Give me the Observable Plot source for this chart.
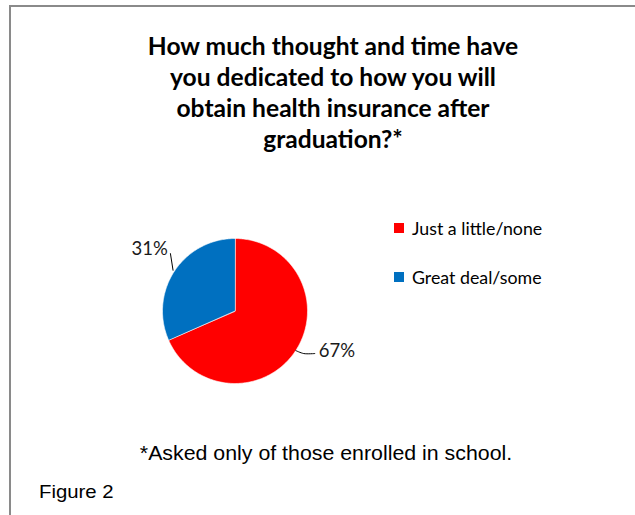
<!DOCTYPE html>
<html>
<head>
<meta charset="utf-8">
<script src="https://cdn.jsdelivr.net/npm/d3@7"></script>
<script src="https://cdn.jsdelivr.net/npm/@observablehq/plot@0.6"></script>
<style>
  html, body { margin: 0; padding: 0; background: #fff; }
  #wrap { position: relative; width: 635px; height: 515px; overflow: hidden; background: #fff; }
  #frame { position: absolute; left: 9px; top: 5px; right: -10px; bottom: -10px;
           border-top: 2px solid #8a8a8a; border-left: 2px solid #8a8a8a; }
  #chart { position: absolute; left: 0; top: 0; }
  #chart svg { overflow: visible; }
  .title { position: absolute; left: 123px; width: 420px; top: 30px; text-align: center;
           font-family: Lato, "Open Sans", sans-serif; font-weight: bold; font-size: 24.6px;
           line-height: 31px; color: #000; }
  .note { position: absolute; font-family: "Liberation Sans", Arial, sans-serif; color: #000;
          line-height: 22px; white-space: nowrap; }
  #footnote { left: 0; width: 652px; top: 442px; font-size: 19.4px; text-align: center;
              transform: scaleX(1.1); transform-origin: 326px 0; }
  #figure { left: 39px; top: 481px; font-size: 18.5px; transform: scaleX(1.1); transform-origin: 0 0; }
  .legend { position: absolute; left: 394px; font-family: Lato, "Open Sans", sans-serif;
            font-size: 17.8px; color: #000; white-space: nowrap; }
  .legend .sw { position: absolute; left: 0; width: 10px; height: 10px; }
  .legend .lb { position: absolute; left: 18px; line-height: 20px; }
</style>
</head>
<body>
<div id="wrap">
  <div id="frame"></div>
  <div id="chart"></div>
  <div class="title" id="title"></div>
  <div class="note" id="footnote"></div>
  <div class="note" id="figure"></div>
  <div id="legend"></div>
</div>
<script>
// Survey answers (percent of respondents enrolled in school)
const categories = ["Just a little/none", "Great deal/some"];
const percents = [67, 31];
const colors = ["#ff0000", "#0070c0"];

const titleLines = [
  "How much thought and time have",
  "you dedicated to how you will",
  "obtain health insurance after",
  "graduation?*"
];
const footnote = "*Asked only of those enrolled in school.";
const figureLabel = "Figure 2";

// Pie geometry (pixels)
const cx = 234.5, cy = 310.5, r = 72.5;

// Label placement relative to each slice's outer mid-point, in pixels:
// leader polyline points, then the text anchor.
const labelLayout = [
  { leader: [[0, 0], [8, 3], [19, 3]], text: [23, 0.4], anchor: "start" },
  { leader: [[-1.2, -1.2], [-3.8, -17.8]], text: [-6.5, -22.3], anchor: "end" }
];

const arcs = d3.pie().sort(null).value(d => d)(percents);

// Slice outlines in unit coordinates (y up, angles clockwise from 12 o'clock)
const slices = arcs.map((a, i) => {
  const n = Math.max(2, Math.ceil((a.endAngle - a.startAngle) / (Math.PI / 180)));
  const pts = [{ i, x: 0, y: 0 }];
  for (let k = 0; k <= n; k++) {
    const t = a.startAngle + (a.endAngle - a.startAngle) * k / n;
    pts.push({ i, x: Math.sin(t), y: Math.cos(t) });
  }
  return pts;
});

const toUnit = (px, py) => [px / r, -py / r];

const leaders = [];
const labels = [];
arcs.forEach((a, i) => {
  const m = (a.startAngle + a.endAngle) / 2;
  const ex = Math.sin(m), ey = Math.cos(m);
  const L = labelLayout[i];
  L.leader.forEach(([dx, dy]) => {
    const [ux, uy] = toUnit(dx, dy);
    leaders.push({ i, x: ex + ux, y: ey + uy });
  });
  const [tx, ty] = toUnit(L.text[0], L.text[1]);
  labels.push({ i, x: ex + tx, y: ey + ty, text: `${percents[i]}%`, anchor: L.anchor });
});

const chart = Plot.plot({
  width: 635,
  height: 515,
  margin: 0,
  x: { domain: [-1, 1], range: [cx - r, cx + r], axis: null },
  y: { domain: [-1, 1], range: [cy + r, cy - r], axis: null },
  style: { background: "transparent", fontFamily: "Lato, 'Open Sans', sans-serif" },
  marks: [
    ...slices.map((pts, i) => Plot.line(pts, {
      x: "x", y: "y", curve: "linear-closed",
      fill: colors[i], stroke: "#ffffff", strokeWidth: 0.6
    })),
    Plot.line(leaders, { x: "x", y: "y", z: "i", stroke: "#000", strokeWidth: 1, curve: "catmull-rom" }),
    ...labels.map(d => Plot.text([d], {
      x: "x", y: "y", text: "text", textAnchor: d.anchor,
      fontSize: 18.5, fill: "#1a1a1a"
    }))
  ]
});
document.getElementById("chart").appendChild(chart);

document.getElementById("title").innerHTML = titleLines.map(s => `<div>${s}</div>`).join("");
document.getElementById("footnote").textContent = footnote;
document.getElementById("figure").textContent = figureLabel;

// Legend
const legendTops = [223, 272];
const legend = document.getElementById("legend");
categories.forEach((c, i) => {
  const item = document.createElement("div");
  item.className = "legend";
  item.style.top = legendTops[i] + "px";
  item.innerHTML = `<div class="sw" style="background:${colors[i]}"></div>` +
                   `<div class="lb" style="top:-5px">${c}</div>`;
  legend.appendChild(item);
});
</script>
</body>
</html>
